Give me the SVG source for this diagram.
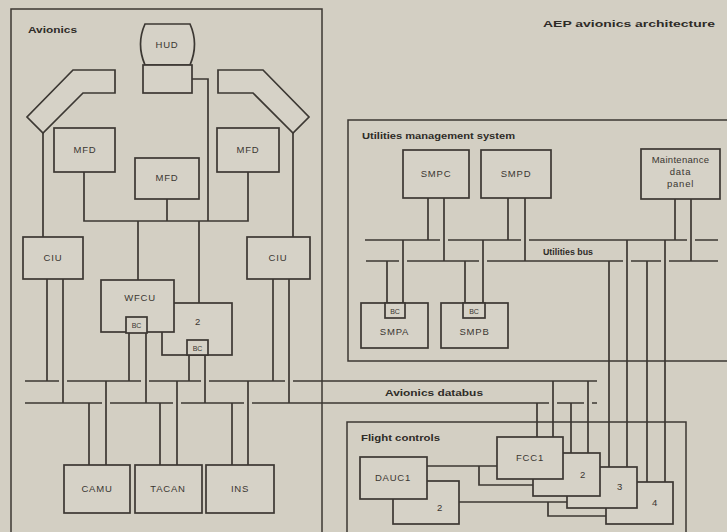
<svg xmlns="http://www.w3.org/2000/svg" width="727" height="532" viewBox="0 0 727 532">
<style>
.bg{fill:#d3cfc3}
.frame{fill:none;stroke:#3c3833;stroke-width:1.5}
.box{fill:#d6d2c7;stroke:#3c3833;stroke-width:1.7}
.ln{fill:none;stroke:#3c3833;stroke-width:1.7}
.t{font-family:"Liberation Sans",Arial,sans-serif;font-size:9.5px;letter-spacing:0.8px;fill:#3a3631;text-anchor:middle}
.h{font-family:"Liberation Sans",Arial,sans-serif;font-size:9px;font-weight:bold;fill:#2e2b27}
</style>
<rect class="bg" x="0" y="0" width="727" height="532"/>

<g id="containers">
  <g id="avionics">
    <rect class="frame" x="11" y="9" width="311" height="530"/>
    <text class="h" x="28" y="33" textLength="49" lengthAdjust="spacingAndGlyphs">Avionics</text>
  </g>
  <g id="ums">
    <path class="frame" d="M730,120 H348 V361 H730"/>
    <text class="h" x="362" y="139" textLength="153" lengthAdjust="spacingAndGlyphs">Utilities management system</text>
  </g>
  <g id="flight-controls">
    <path class="frame" d="M347,540 V422 H686 V540"/>
    <text class="h" x="361" y="441" textLength="79" lengthAdjust="spacingAndGlyphs">Flight controls</text>
  </g>
  <text class="h" x="543" y="27" textLength="172" lengthAdjust="spacingAndGlyphs">AEP avionics architecture</text>
</g>

<g id="connectors">
  <!-- avionics databus (upper y=381, lower y=403) -->
  <path class="ln" d="M25,381 H59 M67,381 H141 M149,381 H201 M209,381 H285 M293,381 H597"/>
  <path class="ln" d="M25,403 H102 M110,403 H173 M181,403 H244 M252,403 H549 M557,403 H584 M592,403 H597"/>
  <text class="h" x="385" y="396" textLength="98" lengthAdjust="spacingAndGlyphs">Avionics databus</text>
  <!-- display bus -->
  <path class="ln" d="M84,172 V221 H248 V172 M167,199 V221 M192,79 H208 V221 M138,221 V280 M199,221 V303"/>
  <path class="ln" d="M43,133 V237 M293,133 V237"/>
  <!-- CIU connections -->
  <path class="ln" d="M47,279 V381 M63,279 V403 M273,279 V381 M289,279 V403"/>
  <!-- WFCU connections -->
  <path class="ln" d="M129,333 V381 M146,333 V403 M189,355 V381 M205,355 V403"/>
  <!-- sensors -->
  <path class="ln" d="M89,403 V465 M106,381 V465 M160,403 V465 M177,381 V465 M232,403 V465 M248,381 V465"/>
  <!-- utilities bus (upper y=240, lower y=261) -->
  <path class="ln" d="M365,240 H440 M448,240 H521 M529,240 H687 M695,240 H718"/>
  <path class="ln" d="M366,261 H399 M407,261 H479 M487,261 H623 M631,261 H661 M669,261 H718"/>
  <text class="h" x="543" y="255" textLength="50" lengthAdjust="spacingAndGlyphs">Utilities bus</text>
  <path class="ln" d="M428,198 V240 M444,198 V261 M508,198 V240 M525,198 V261 M675,199 V240 M691,199 V261"/>
  <path class="ln" d="M387,261 V303 M403,240 V303 M465,261 V303 M483,240 V303"/>
  <!-- utilities bus to FCC 3/4 -->
  <path class="ln" d="M609,261 V467 M627,240 V467 M647,261 V482 M665,240 V482"/>
  <!-- avionics databus to FCC 1/2 -->
  <path class="ln" d="M537,403 V437 M553,381 V437 M571,403 V453 M588,381 V453"/>
  <!-- DAUC to FCC -->
  <path class="ln" d="M427,466 H497 M479,466 V485 H533"/>
  <path class="ln" d="M459,502 H567 M548,502 V516 H606"/>
</g>

<g id="hud">
  <path class="box" d="M145,24 H190 Q199,44 190,65 H145 Q136,44 145,24 Z"/>
  <rect class="box" x="143" y="65" width="49" height="28"/>
  <text class="t" x="167" y="48">HUD</text>
</g>
<g id="combiner-left">
  <polygon class="box" points="73,70 115,70 115,93 83,93 43,133 27,117"/>
</g>
<g id="combiner-right">
  <polygon class="box" points="218,70 263,70 309,117 293,133 253,93 218,93"/>
</g>
<g id="mfd-left">
  <rect class="box" x="54" y="128" width="61" height="44"/>
  <text class="t" x="85" y="153">MFD</text>
</g>
<g id="mfd-center">
  <rect class="box" x="135" y="158" width="64" height="41"/>
  <text class="t" x="167" y="181">MFD</text>
</g>
<g id="mfd-right">
  <rect class="box" x="217" y="128" width="62" height="44"/>
  <text class="t" x="248" y="153">MFD</text>
</g>
<g id="ciu-left">
  <rect class="box" x="23" y="237" width="60" height="42"/>
  <text class="t" x="53" y="261">CIU</text>
</g>
<g id="ciu-right">
  <rect class="box" x="247" y="237" width="63" height="42"/>
  <text class="t" x="278" y="261">CIU</text>
</g>
<g id="wfcu-2">
  <rect class="box" x="162" y="303" width="70" height="52"/>
  <text class="t" x="198" y="325">2</text>
  <rect class="box" x="187" y="340" width="21" height="15"/>
  <text class="t" x="197.5" y="351" style="font-size:7px;letter-spacing:0">BC</text>
</g>
<g id="wfcu-1">
  <rect class="box" x="101" y="280" width="73" height="52"/>
  <text class="t" x="140" y="301">WFCU</text>
  <rect class="box" x="126" y="317" width="21" height="16"/>
  <text class="t" x="136.5" y="328" style="font-size:7px;letter-spacing:0">BC</text>
</g>
<g id="camu">
  <rect class="box" x="64" y="465" width="66" height="48"/>
  <text class="t" x="97" y="492">CAMU</text>
</g>
<g id="tacan">
  <rect class="box" x="135" y="465" width="67" height="48"/>
  <text class="t" x="168" y="492">TACAN</text>
</g>
<g id="ins">
  <rect class="box" x="206" y="465" width="68" height="48"/>
  <text class="t" x="240" y="492">INS</text>
</g>

<g id="smpc">
  <rect class="box" x="403" y="150" width="66" height="48"/>
  <text class="t" x="436" y="177">SMPC</text>
</g>
<g id="smpd">
  <rect class="box" x="481" y="150" width="70" height="48"/>
  <text class="t" x="516" y="177">SMPD</text>
</g>
<g id="maintenance-panel">
  <rect class="box" x="641" y="149" width="79" height="50"/>
  <text class="t" x="680.5" y="163" style="letter-spacing:0.3px">Maintenance</text>
  <text class="t" x="680.5" y="175">data</text>
  <text class="t" x="680.5" y="187">panel</text>
</g>
<g id="smpa">
  <rect class="box" x="361" y="303" width="67" height="45"/>
  <rect class="box" x="385" y="303" width="20" height="15"/>
  <text class="t" x="395" y="314" style="font-size:7px;letter-spacing:0">BC</text>
  <text class="t" x="394.5" y="335">SMPA</text>
</g>
<g id="smpb">
  <rect class="box" x="441" y="303" width="67" height="45"/>
  <rect class="box" x="463" y="303" width="22" height="15"/>
  <text class="t" x="474" y="314" style="font-size:7px;letter-spacing:0">BC</text>
  <text class="t" x="474.5" y="335">SMPB</text>
</g>

<g id="dauc-2">
  <rect class="box" x="393" y="481" width="66" height="43"/>
  <text class="t" x="440" y="511">2</text>
</g>
<g id="dauc-1">
  <rect class="box" x="360" y="457" width="67" height="42"/>
  <text class="t" x="393" y="481">DAUC1</text>
</g>
<g id="fcc-4">
  <rect class="box" x="606" y="482" width="67" height="42"/>
  <text class="t" x="655" y="506">4</text>
</g>
<g id="fcc-3">
  <rect class="box" x="567" y="467" width="70" height="41"/>
  <text class="t" x="620" y="490">3</text>
</g>
<g id="fcc-2">
  <rect class="box" x="533" y="453" width="67" height="43"/>
  <text class="t" x="583" y="478">2</text>
</g>
<g id="fcc-1">
  <rect class="box" x="497" y="437" width="66" height="42"/>
  <text class="t" x="530" y="461">FCC1</text>
</g>
</svg>
